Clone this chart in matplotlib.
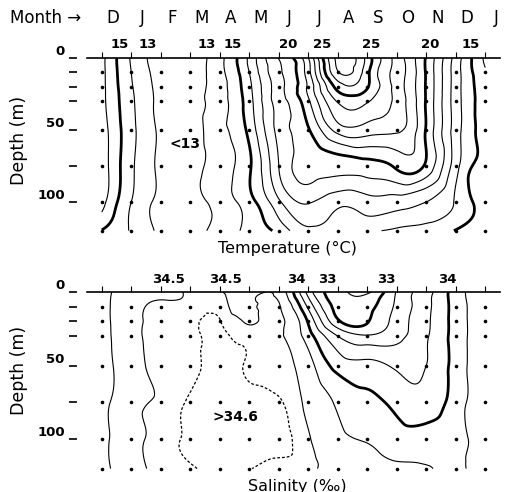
import matplotlib
matplotlib.use("Agg")
import matplotlib.pyplot as plt
import matplotlib.tri as mtri
import numpy as np

months = ["D", "J", "F", "M", "A", "M", "J", "J", "A", "S", "O", "N", "D", "J"]
depths = [0, 10, 20, 30, 50, 75, 100, 120]
dot_depths = [10, 20, 30, 50, 75, 100, 120]

# temperature (deg C), one row per month column, values at `depths`
temp = [
    [16.3, 16.3, 16.3, 16.3, 16.5, 16.6, 16.4, 14.95],   # D
    [13.9, 14.0, 14.1, 14.2, 14.3, 14.2, 14.0, 13.9],    # J
    [12.5, 12.6, 12.7, 12.7, 12.8, 12.8, 12.75, 12.8],   # F
    [12.4, 12.4, 12.5, 12.5, 12.5, 12.6, 12.6, 12.6],    # M
    [13.7, 13.7, 13.6, 13.6, 13.7, 13.5, 13.4, 13.4],    # A
    [16.2, 16.0, 15.75, 15.6, 15.3, 14.85, 14.6, 14.3],  # M
    [19.05, 18.8, 18.6, 18.5, 18.35, 18.0, 16.8, 15.3],  # J
    [22.0, 21.6, 21.2, 20.8, 19.9, 19.3, 18.1, 16.8],    # J
    [27.3, 26.9, 25.4, 24.1, 22.4, 19.4, 17.3, 16.5],    # A
    [25.6, 25.3, 25.1, 24.1, 22.5, 19.6, 17.6, 16.1],    # S
    [22.6, 22.6, 22.6, 22.7, 22.2, 20.2, 17.5, 15.8],    # O
    [19.9, 19.9, 19.9, 19.9, 19.9, 19.8, 17.0, 15.6],    # N
    [16.6, 16.5, 16.5, 16.5, 16.5, 16.4, 15.9, 14.95],   # D
    [13.8, 14.15, 14.4, 14.5, 14.5, 14.5, 14.4, 14.3],   # J
]

# salinity (permil)
sal = [
    [34.17, 34.17, 34.16, 34.15, 34.12, 34.14, 34.17, 34.17],
    [34.38, 34.42, 34.43, 34.43, 34.42, 34.44, 34.43, 34.42],
    [34.46, 34.53, 34.54, 34.55, 34.54, 34.52, 34.55, 34.54],
    [34.53, 34.54, 34.565, 34.57, 34.575, 34.62, 34.62, 34.585],
    [34.52, 34.56, 34.605, 34.62, 34.63, 34.65, 34.65, 34.64],
    [34.40, 34.45, 34.49, 34.55, 34.59, 34.63, 34.64, 34.605],
    [34.42, 34.52, 34.53, 34.53, 34.56, 34.61, 34.62, 34.55],
    [33.40, 33.70, 33.97, 34.12, 34.35, 34.45, 34.52, 34.54],
    [32.85, 32.90, 33.05, 33.50, 33.90, 34.22, 34.30, 34.40],
    [32.70, 32.90, 32.98, 33.28, 33.82, 34.07, 34.23, 34.30],
    [33.27, 33.30, 33.35, 33.42, 33.70, 33.93, 34.10, 34.27],
    [33.65, 33.68, 33.70, 33.72, 33.75, 33.85, 34.08, 34.28],
    [34.12, 34.10, 34.10, 34.10, 34.10, 34.12, 34.15, 34.18],
    [34.45, 34.45, 34.45, 34.45, 34.45, 34.45, 34.46, 34.46],
]

temp_thin = [13, 14, 16, 17, 18, 19, 21, 22, 23, 24, 26, 27]
temp_thick = [15, 20, 25]
sal_thin = [32.75, 33.25, 33.5, 33.75, 34.25, 34.5]
sal_thick = [33, 34]
sal_dashed = [34.6]

temp_labels = ["15", "13", "13", "15", "20", "25", "25", "20", "15"]
temp_label_x = [0.61, 1.56, 3.56, 4.44, 6.31, 7.46, 9.12, 11.12, 12.5]
sal_labels = ["34.5", "34.5", "34", "33", "33", "34"]
sal_label_x = [2.27, 4.2, 6.6, 7.63, 9.66, 11.7]

ytick_pos = [0, 10, 20, 30, 50, 75, 100]
ytick_lab = ["0", "", "", "", "50", "", "100"]


def smooth_field(values):
    # refine the station grid with matplotlib's cubic tri interpolator
    gx, gy = np.meshgrid(np.arange(len(months)), depths, indexing="ij")
    gx = gx.ravel().astype(float)
    gy = gy.ravel().astype(float)
    tri = mtri.Triangulation(gx, gy / 20.5)
    fine, z = mtri.UniformTriRefiner(tri).refine_field(np.asarray(values).ravel(), subdiv=4)
    return mtri.Triangulation(fine.x, fine.y * 20.5, fine.triangles), z


def draw_panel(ax, field, thin, thick, dashed, labels, label_x, lab_off):
    tri, z = smooth_field(field)
    ax.tricontour(tri, z, levels=thin, colors="k", linewidths=0.8)
    ax.tricontour(tri, z, levels=thick, colors="k", linewidths=2.0)
    if dashed:
        ax.tricontour(tri, z, levels=dashed, colors="k", linewidths=0.9,
                      linestyles=[(0, (2.2, 1.6))])

    mx, md = np.meshgrid(np.arange(len(months)), dot_depths)
    ax.plot(mx.ravel(), md.ravel(), "o", ms=2.6, mew=0, color="k")

    ax.set_xlim(-0.5, 13.5)
    ax.set_ylim(123, 0)
    for side in ["bottom", "right"]:
        ax.spines[side].set_visible(False)
    ax.spines["top"].set_linewidth(1.2)
    ax.spines["left"].set_position(("outward", 7))
    ax.spines["left"].set_visible(False)

    ax.set_xticks(range(len(months)))
    ax.tick_params(axis="x", top=True, bottom=False, labeltop=False,
                   labelbottom=False, direction="out", length=4, width=0.8)
    ax.set_yticks(ytick_pos)
    ax.set_yticklabels(ytick_lab, fontsize=9.5, fontweight="bold")
    ax.tick_params(axis="y", direction="out", length=6, width=1.2, pad=3)
    for t in ax.get_yticklabels():
        t.set_verticalalignment("bottom")

    for txt, xp in zip(labels, label_x):
        ax.annotate(txt, xy=(xp, 0), xytext=(0, lab_off), textcoords="offset points",
                    ha="center", va="bottom", fontsize=9.5, fontweight="bold",
                    annotation_clip=False)


fig = plt.figure(figsize=(5.06, 4.92), dpi=100)
ax_t = fig.add_axes([87 / 506, 1 - 235 / 492, 413 / 506, 177 / 492])
ax_s = fig.add_axes([87 / 506, 1 - 473 / 492, 413 / 506, 181 / 492])

draw_panel(ax_t, temp, temp_thin, temp_thick, None, temp_labels, temp_label_x, 5)
draw_panel(ax_s, sal, sal_thin, sal_thick, sal_dashed, sal_labels, sal_label_x, 4.5)

ax_t.text(2.81, 60, "<13", fontsize=10, fontweight="bold", ha="center", va="center")
ax_s.text(4.54, 85, ">34.6", fontsize=10, fontweight="bold", ha="center", va="center")

# month header
fig.text(10 / 506, 1 - 18 / 492, "Month \u2192", fontsize=12, ha="left", va="center")
for k, m in enumerate(months):
    ax_t.annotate(m, xy=(k + 0.37, 1 + 40 / 177), xycoords=("data", "axes fraction"),
                  ha="center", va="center", fontsize=12, annotation_clip=False)

fig.text(19 / 506, 1 - 140 / 492, "Depth (m)", rotation=90, fontsize=12.5,
         ha="center", va="center")
fig.text(19 / 506, 1 - 370 / 492, "Depth (m)", rotation=90, fontsize=12.5,
         ha="center", va="center")
fig.text(287 / 506, 1 - 248 / 492, "Temperature (\u00b0C)", fontsize=11.5,
         ha="center", va="center")
fig.text(297 / 506, 1 - 486 / 492, "Salinity (\u2030)", fontsize=11.5,
         ha="center", va="center")

fig.savefig("out.png", dpi=100)
